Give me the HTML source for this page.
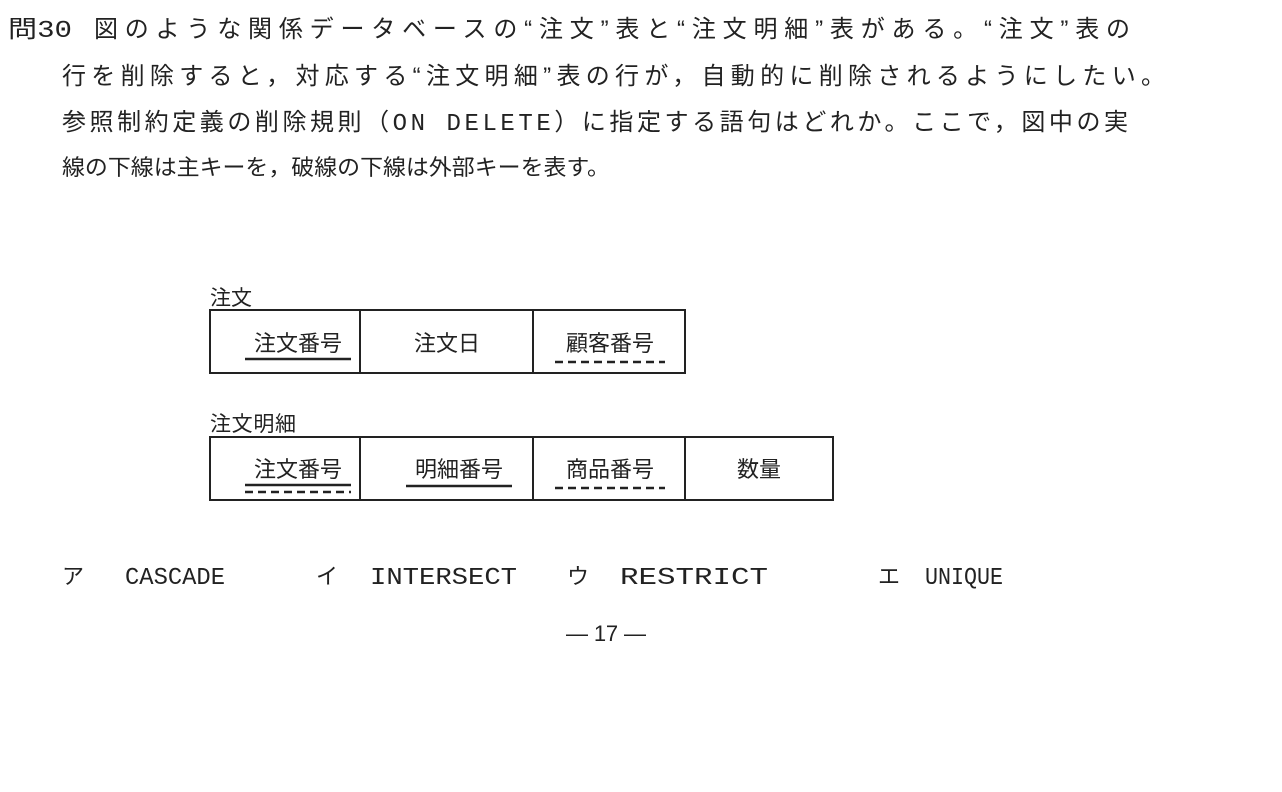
<!DOCTYPE html>
<html><head><meta charset="utf-8"><style>
html,body{margin:0;padding:0;background:#fff;}
svg{display:block}
.j{font-family:"Liberation Sans","Noto Sans CJK JP",sans-serif;fill:#222;}
.m{font-family:"Liberation Mono","Noto Sans CJK JP",monospace;fill:#222;}
</style></head><body>
<svg width="1282" height="792" viewBox="0 0 1282 792" xmlns="http://www.w3.org/2000/svg">
<rect width="1282" height="792" fill="#fff"/>
<g class="j" font-size="24">
<text class="m" x="8" y="37" textLength="64" lengthAdjust="spacingAndGlyphs">問30</text>
<text x="94" y="37" textLength="1036" lengthAdjust="spacing">図のような関係データベースの“注文”表と“注文明細”表がある。“注文”表の</text>
<text x="62" y="84" textLength="1103" lengthAdjust="spacing">行を削除すると，対応する“注文明細”表の行が，自動的に削除されるようにしたい。</text>
<text x="62" y="130" textLength="1066" lengthAdjust="spacing">参照制約定義の削除規則（<tspan class="m">ON DELETE</tspan>）に指定する語句はどれか。ここで，図中の実</text>
<text x="62" y="175" font-size="22" textLength="548" lengthAdjust="spacingAndGlyphs">線の下線は主キーを，破線の下線は外部キーを表す。</text>
</g>
<g class="j" font-size="21">
<text x="210" y="305" textLength="42" lengthAdjust="spacing">注文</text>
<text x="210" y="431" textLength="86" lengthAdjust="spacing">注文明細</text>
</g>
<g fill="none" stroke="#222" stroke-width="2">
<rect x="210" y="310" width="475" height="63"/>
<line x1="360" y1="310" x2="360" y2="373"/>
<line x1="533" y1="310" x2="533" y2="373"/>
<rect x="210" y="437" width="623" height="63"/>
<line x1="360" y1="437" x2="360" y2="500"/>
<line x1="533" y1="437" x2="533" y2="500"/>
<line x1="685" y1="437" x2="685" y2="500"/>
</g>
<g class="j" font-size="22" text-anchor="middle">
<text x="298" y="351">注文番号</text>
<text x="447" y="351">注文日</text>
<text x="610" y="351">顧客番号</text>
<text x="298" y="477">注文番号</text>
<text x="459" y="477">明細番号</text>
<text x="610" y="477">商品番号</text>
<text x="759" y="477">数量</text>
</g>
<g stroke="#222" stroke-width="2.5">
<line x1="245" y1="359" x2="351" y2="359"/>
<line x1="555" y1="362" x2="665" y2="362" stroke-dasharray="8,5"/>
<line x1="245" y1="485" x2="351" y2="485"/>
<line x1="245" y1="492" x2="351" y2="492" stroke-dasharray="8,5"/>
<line x1="406" y1="486" x2="512" y2="486"/>
<line x1="555" y1="488" x2="665" y2="488" stroke-dasharray="8,5"/>
</g>
<g font-size="24">
<text class="j" x="62" y="584" font-size="22">ア</text>
<text class="m" x="125" y="584" textLength="100" lengthAdjust="spacingAndGlyphs">CASCADE</text>
<text class="j" x="316" y="584" font-size="22">イ</text>
<text class="m" x="370" y="584" textLength="147" lengthAdjust="spacingAndGlyphs">INTERSECT</text>
<text class="j" x="567" y="584" font-size="22">ウ</text>
<text class="m" x="620" y="584" textLength="148" lengthAdjust="spacingAndGlyphs">RESTRICT</text>
<text class="j" x="878" y="584" font-size="22">エ</text>
<text class="m" x="925" y="584" textLength="78" lengthAdjust="spacingAndGlyphs">UNIQUE</text>
</g>
<text class="j" x="606" y="641" font-size="22" text-anchor="middle" textLength="80" lengthAdjust="spacing">— 17 —</text>
</svg>
</body></html>
